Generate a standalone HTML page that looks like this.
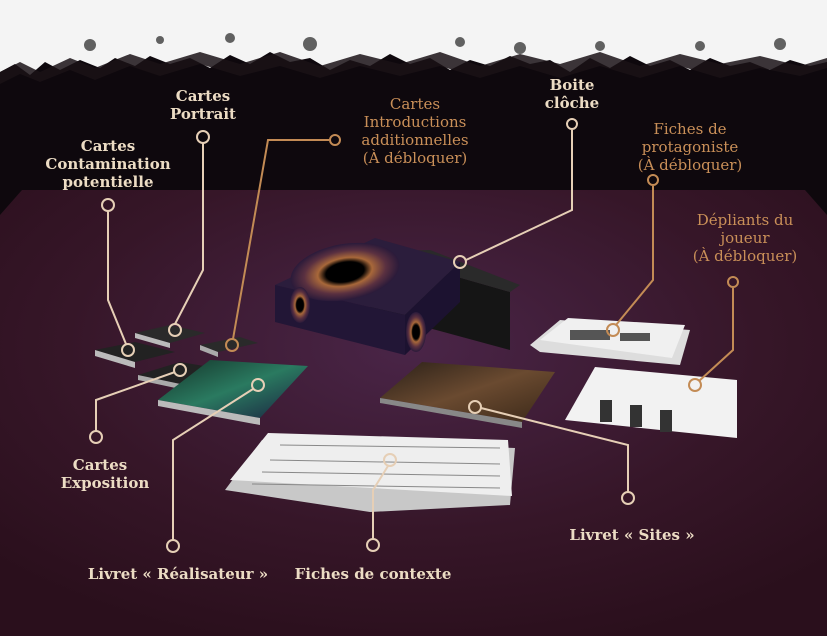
<!DOCTYPE html>
<html><head><meta charset="utf-8"><style>
html,body{margin:0;padding:0;background:#0e080d;}
svg{display:block}
text{font-family:"DejaVu Serif","Liberation Serif",serif;font-size:15px;text-anchor:middle}
.c{fill:#ecdcc4;font-weight:bold}
.o{fill:#c98f58}
.l{stroke:#e6cfb6;stroke-width:2;fill:none}
.lo{stroke:#c38b55;stroke-width:2;fill:none}
</style></head><body>
<svg width="827" height="636" viewBox="0 0 827 636" xmlns="http://www.w3.org/2000/svg">
<defs>
<radialGradient id="fl" cx="0.5" cy="0.35" r="0.7">
<stop offset="0" stop-color="#4a2548"/><stop offset="0.6" stop-color="#361628"/><stop offset="1" stop-color="#2a0f1c"/>
</radialGradient>
<radialGradient id="hole" cx="0.5" cy="0.5" r="0.5">
<stop offset="0" stop-color="#000"/><stop offset="0.35" stop-color="#000"/><stop offset="0.5" stop-color="#a8683a"/><stop offset="0.75" stop-color="#5a3040"/><stop offset="1" stop-color="#2a1a3a"/>
</radialGradient>
<linearGradient id="bk1" x1="0" y1="0" x2="1" y2="1"><stop offset="0" stop-color="#143228"/><stop offset="0.5" stop-color="#2a7a60"/><stop offset="1" stop-color="#1a2040"/></linearGradient>
<linearGradient id="bk2" x1="0" y1="0" x2="1" y2="1"><stop offset="0" stop-color="#2a2018"/><stop offset="0.5" stop-color="#6a4a30"/><stop offset="1" stop-color="#3a2818"/></linearGradient>
</defs>
<rect width="827" height="636" fill="#0e080d"/>
<polygon points="22,190 805,190 827,215 827,636 0,636 0,215" fill="url(#fl)"/>
<!-- grunge top -->
<rect width="827" height="50" fill="#f4f4f4"/>
<path d="M0,50 L0,72 L15,64 L30,75 L45,62 L60,70 L80,60 L100,68 L115,58 L135,66 L150,56 L170,64 L190,58 L210,68 L230,55 L250,64 L270,52 L290,62 L310,58 L330,70 L350,60 L370,66 L390,54 L410,64 L430,58 L450,70 L470,60 L490,66 L510,56 L530,64 L550,60 L570,72 L590,58 L610,68 L630,56 L650,66 L670,60 L690,70 L710,58 L730,66 L750,62 L770,70 L790,60 L810,66 L827,62 L827,50 Z" fill="#f4f4f4"/>
<path d="M0,72 L20,62 L40,72 L70,58 L95,68 L130,54 L160,64 L200,52 L240,64 L280,52 L320,66 L360,54 L400,64 L440,52 L480,66 L520,54 L560,64 L600,52 L640,66 L680,54 L720,64 L760,56 L800,66 L827,58 L827,68 L800,76 L760,68 L720,78 L680,66 L640,78 L600,66 L560,78 L520,66 L480,78 L440,66 L400,76 L360,66 L320,78 L280,66 L240,76 L200,64 L160,76 L130,66 L95,80 L70,70 L40,82 L20,74 L0,84Z" fill="#1a1216" opacity="0.85"/>
<g fill="#222" opacity="0.7"><circle cx="90" cy="45" r="6"/><circle cx="230" cy="38" r="5"/><circle cx="310" cy="44" r="7"/><circle cx="460" cy="42" r="5"/><circle cx="520" cy="48" r="6"/><circle cx="700" cy="46" r="5"/><circle cx="780" cy="44" r="6"/><circle cx="160" cy="40" r="4"/><circle cx="600" cy="46" r="5"/></g>
<!-- box -->
<polygon points="370,252 510,292 510,350 370,312" fill="#151515"/>
<polygon points="430,250 520,285 510,292 370,252" fill="#2a2a2a"/>
<polygon points="275,285 375,238 460,262 405,315" fill="#2b1d3c"/>
<polygon points="275,285 405,315 405,355 275,322" fill="#221636"/>
<polygon points="405,315 460,262 460,302 405,355" fill="#1c1230"/>
<ellipse cx="345" cy="272" rx="55" ry="28" fill="url(#hole)" transform="rotate(-10 345 272)"/>
<ellipse cx="300" cy="305" rx="10" ry="18" fill="url(#hole)"/>
<ellipse cx="416" cy="332" rx="10" ry="20" fill="url(#hole)"/>
<!-- cards -->
<polygon points="95,350 135,342 175,352 135,362" fill="#222"/><polygon points="95,350 135,362 135,368 95,356" fill="#bbb"/>
<polygon points="135,333 170,325 205,333 170,343" fill="#2a2a2a"/><polygon points="135,333 170,343 170,348 135,338" fill="#bbb"/>
<polygon points="200,345 240,337 258,343 218,352" fill="#2a2a2a"/><polygon points="200,345 218,352 218,357 200,350" fill="#aaa"/>
<polygon points="138,375 180,362 228,370 185,385" fill="#222"/><polygon points="138,375 185,385 185,390 138,380" fill="#aaa"/>
<!-- books -->
<polygon points="158,400 210,360 308,366 260,418" fill="url(#bk1)"/><polygon points="158,400 260,418 260,425 158,406" fill="#bbb"/>
<polygon points="380,398 422,362 555,372 522,422" fill="url(#bk2)"/><polygon points="380,398 522,422 522,428 380,403" fill="#888"/>
<!-- sheets -->
<polygon points="225,490 262,440 515,448 510,505 370,512" fill="#c8c8c8"/>
<polygon points="230,480 268,433 508,440 512,496" fill="#eee"/>
<g stroke="#888" stroke-width="1"><line x1="280" y1="445" x2="500" y2="448"/><line x1="270" y1="460" x2="500" y2="464"/><line x1="262" y1="472" x2="500" y2="476"/><line x1="252" y1="484" x2="500" y2="488"/></g>
<polygon points="530,345 560,320 690,330 680,365 540,352" fill="#ddd"/>
<polygon points="540,340 568,318 685,325 672,358" fill="#f0f0f0"/>
<g fill="#555"><rect x="570" y="330" width="40" height="10"/><rect x="620" y="333" width="30" height="8"/></g>
<polygon points="565,420 595,367 737,380 737,438" fill="#f2f2f2"/>
<g fill="#333"><rect x="600" y="400" width="12" height="22"/><rect x="630" y="405" width="12" height="22"/><rect x="660" y="410" width="12" height="22"/></g>
<!-- connectors -->
<g class="l">
<path d="M203,143 V270 L175,324"/><circle cx="203" cy="137" r="6"/><circle cx="175" cy="330" r="6"/>
<path d="M108,211 V300 L126,344"/><circle cx="108" cy="205" r="6"/><circle cx="128" cy="350" r="6"/>
<path d="M572,130 V210 L466,260"/><circle cx="572" cy="124" r="5"/><circle cx="460" cy="262" r="6"/>
<path d="M96,431 V400 L175,372"/><circle cx="96" cy="437" r="6"/><circle cx="180" cy="370" r="6"/>
<path d="M173,540 V440 L253,389"/><circle cx="173" cy="546" r="6"/><circle cx="258" cy="385" r="6"/>
<path d="M373,539 V490 L388,466"/><circle cx="373" cy="545" r="6"/><circle cx="390" cy="460" r="6"/>
<path d="M628,492 V445 L481,408"/><circle cx="628" cy="498" r="6"/><circle cx="475" cy="407" r="6"/>
</g>
<g class="lo">
<path d="M329,140 H268 L233,339"/><circle cx="335" cy="140" r="5"/><circle cx="232" cy="345" r="6"/>
<path d="M653,186 V280 L616,325"/><circle cx="653" cy="180" r="5"/><circle cx="613" cy="330" r="6"/>
<path d="M733,288 V350 L699,381"/><circle cx="733" cy="282" r="5"/><circle cx="695" cy="385" r="6"/>
</g>
<!-- labels -->
<text class="c" x="203" y="101">Cartes</text><text class="c" x="203" y="119">Portrait</text>
<text class="c" x="108" y="151">Cartes</text><text class="c" x="108" y="169">Contamination</text><text class="c" x="108" y="187">potentielle</text>
<text class="o" x="415" y="109">Cartes</text><text class="o" x="415" y="127">Introductions</text><text class="o" x="415" y="145">additionnelles</text><text class="o" x="415" y="163">(À débloquer)</text>
<text class="c" x="572" y="90">Boite</text><text class="c" x="572" y="108">clôche</text>
<text class="o" x="690" y="134">Fiches de</text><text class="o" x="690" y="152">protagoniste</text><text class="o" x="690" y="170">(À débloquer)</text>
<text class="o" x="745" y="225">Dépliants du</text><text class="o" x="745" y="243">joueur</text><text class="o" x="745" y="261">(À débloquer)</text>
<text class="c" x="100" y="470">Cartes</text><text class="c" x="105" y="488">Exposition</text>
<text class="c" x="178" y="579">Livret « Réalisateur »</text>
<text class="c" x="373" y="579">Fiches de contexte</text>
<text class="c" x="632" y="540">Livret « Sites »</text>
</svg>
</body></html>
